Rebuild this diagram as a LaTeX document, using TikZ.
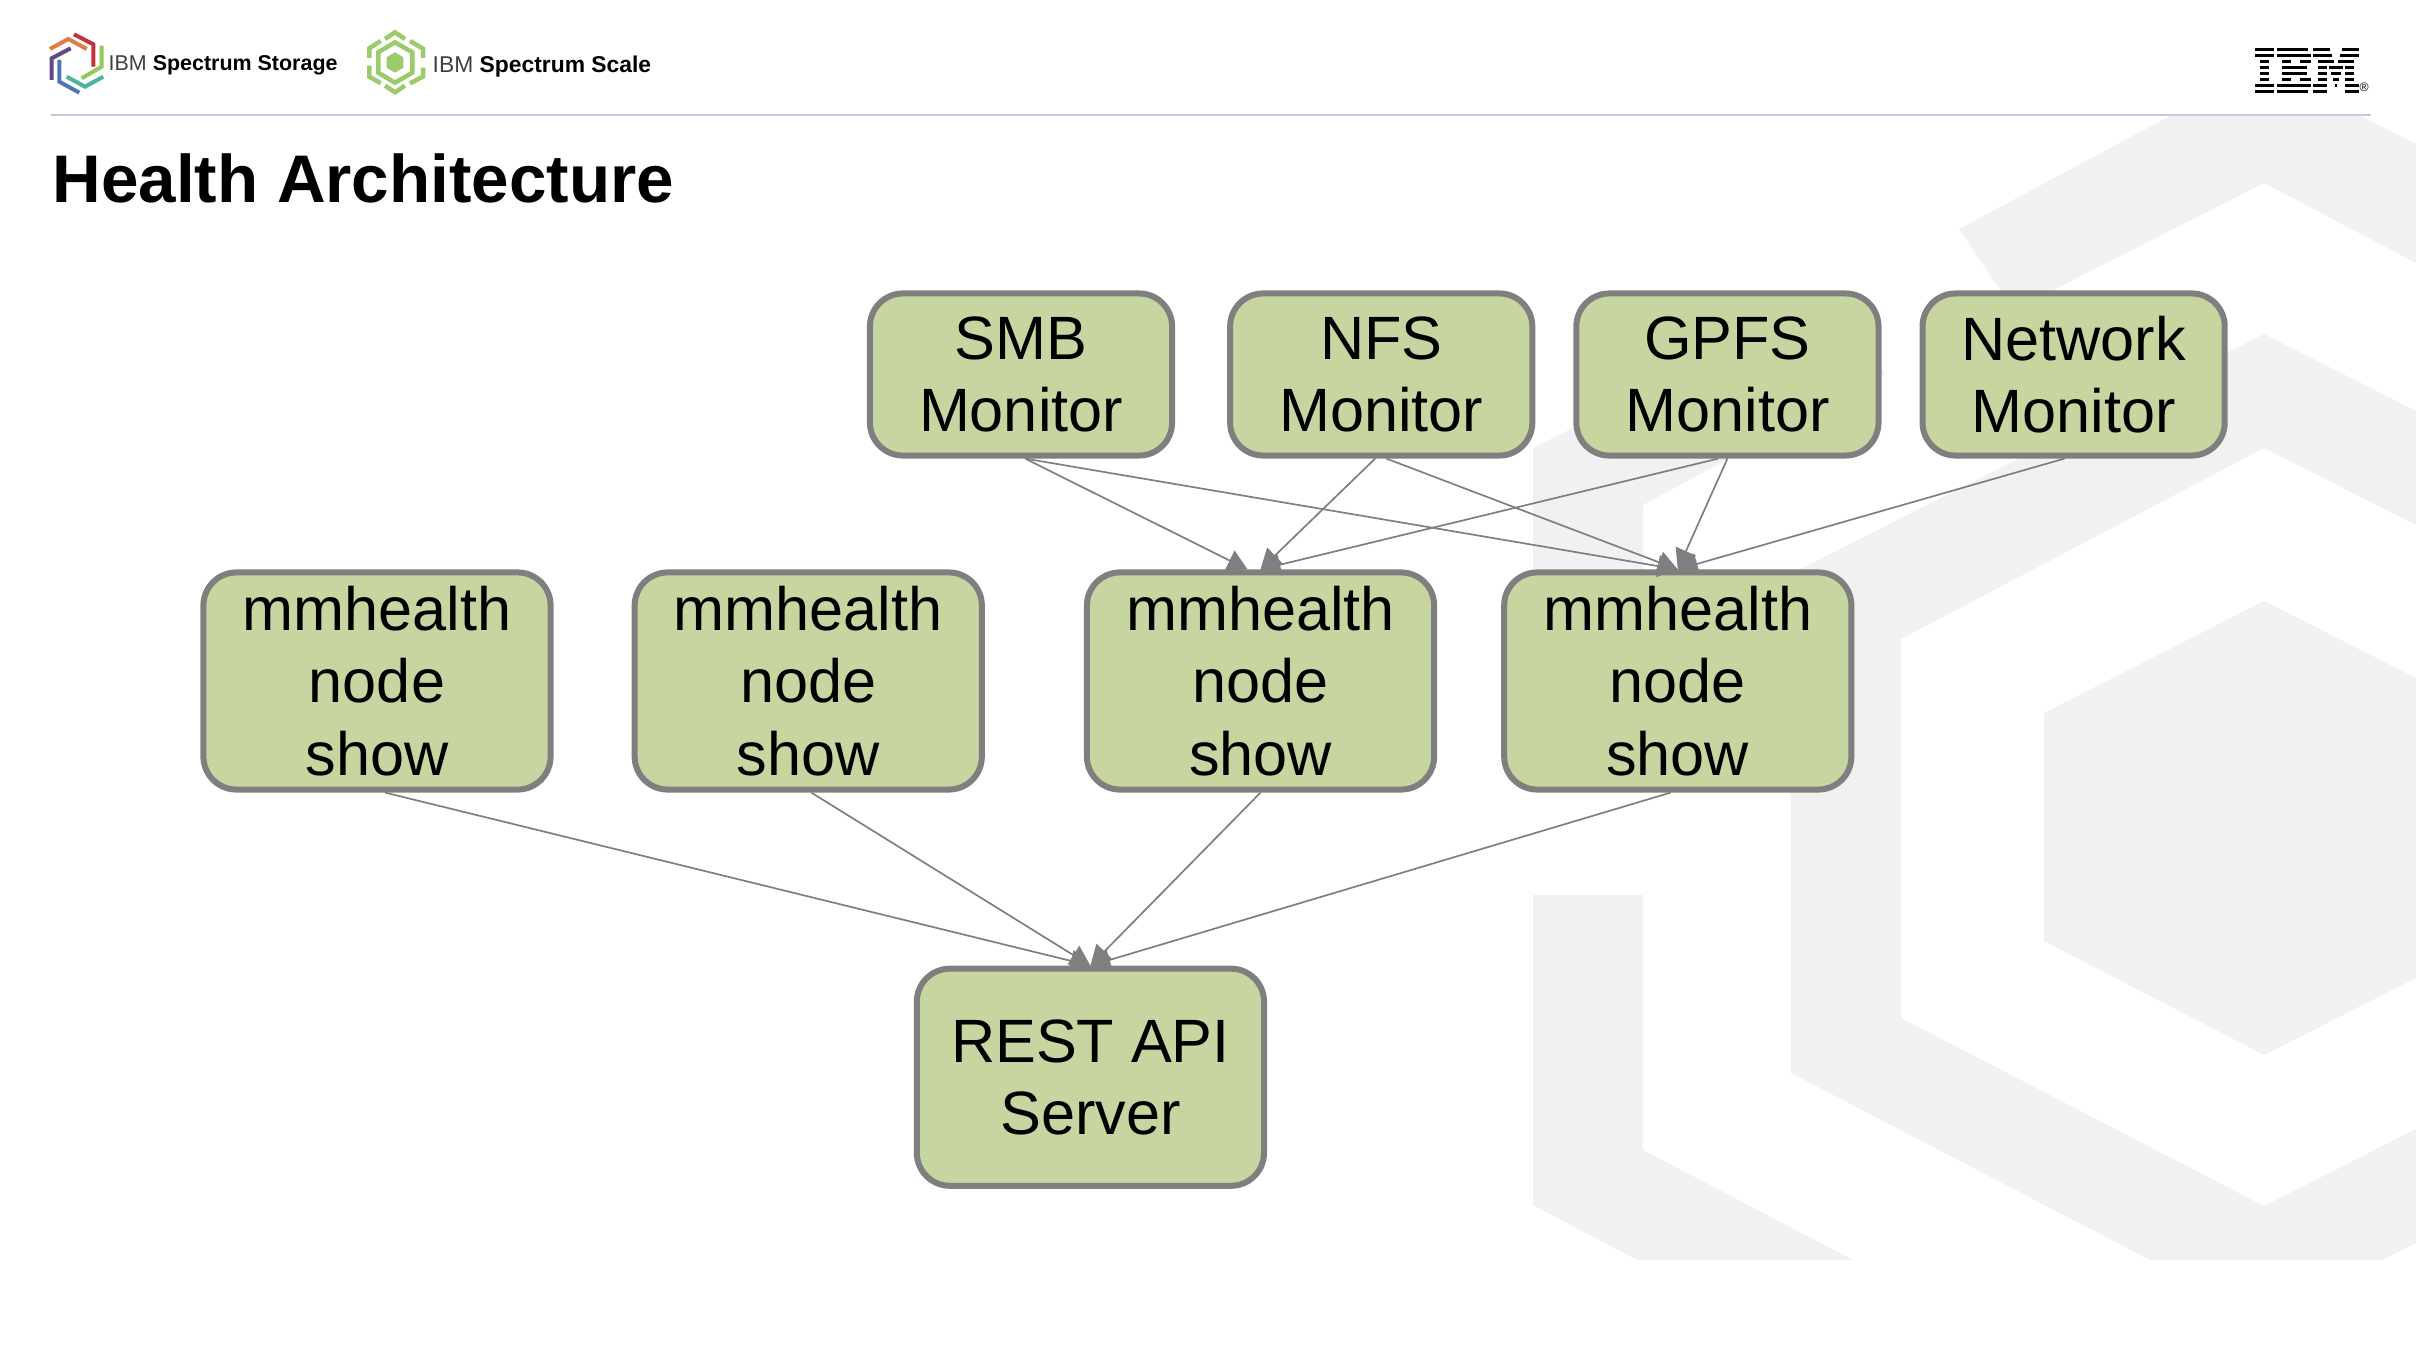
\documentclass[tikz,border=0pt]{standalone}
\usepackage{fontspec}
\setmainfont{Liberation Sans}
\usepackage{tikz}
\usetikzlibrary{shapes.geometric, arrows, arrows.meta}
\definecolor{boxgreen}{HTML}{C7D5A0}
\definecolor{boxgray}{HTML}{7F7F7F}
\definecolor{bandgray}{HTML}{F1F1F1}
\definecolor{rulegray}{HTML}{C6C9DB}
\definecolor{scalegreen}{HTML}{9CCB6B}
\definecolor{logored}{HTML}{C5323E}
\definecolor{logoorange}{HTML}{E07D46}
\definecolor{logopurple}{HTML}{64468C}
\definecolor{logoblue}{HTML}{4B78B4}
\definecolor{logoteal}{HTML}{4BB4A0}
\definecolor{logogreen}{HTML}{96C85A}
\tikzstyle{monitor} = [rectangle, rounded corners=0.33cm, minimum width=3.02cm, minimum height=1.62cm, inner sep=0pt, align=center, draw=boxgray, line width=0.06cm, fill=boxgreen, font=\fontsize{17.4}{20.6}\selectfont]
\tikzstyle{health} = [monitor, minimum width=3.47cm, minimum height=2.17cm]
\tikzstyle{arrow} = [draw=boxgray, line width=0.017cm, -{Triangle[length=0.2cm,width=0.22cm]}]
\tikzstyle{band} = [fill=bandgray]
\tikzstyle{logoline} = [line width=0.04cm]
\tikzstyle{scaleline} = [line width=0.045cm, draw=scalegreen]
\tikzstyle{ibmbar} = [fill=black]
\begin{document}
\begin{tikzpicture}[node distance=1.5cm, x=0.01cm, y=-0.01cm]
		\useasboundingbox (0,0) rectangle (2416,1346);
		
		% background hexagon
		\fill [band] (1959,229) -- (2172,115) -- (2359,115) -- (2416,144) -- (2416,263) -- (2264,183) -- (2014,310) -- cycle;
		\fill [band] (1533,448) -- (1835,297) -- (1885,374) -- (1643,505) -- (1643,700) -- (1533,700) -- cycle;
		\fill [band] (1533,895) -- (1643,895) -- (1643,1150) -- (1853,1260) -- (1637,1260) -- (1533,1205) -- cycle;
		\fill [band] (2264,334) -- (2416,411) -- (2416,525) -- (2264,448) -- (1901,639) -- (1901,1018) -- (2264,1206) -- (2416,1129) -- (2416,1243) -- (2382,1260) -- (2150,1260) -- (1791,1073) -- (1791,574) -- cycle;
		\fill [band] (2264,601) -- (2416,678) -- (2416,978) -- (2264,1055) -- (2044,941) -- (2044,713) -- cycle;
		
		% header
		\draw [logoline, draw=logored] (74,34.3) -- (93.3,44.3) -- (93.3,66.7);
		\draw [logoline, draw=logoorange] (50,49) -- (68.3,39) -- (86.7,49);
		\draw [logoline, draw=logopurple] (70.7,48.3) -- (51.7,58.3) -- (51.7,80);
		\draw [logoline, draw=logoblue] (59.3,60) -- (59.3,81.7) -- (79.3,92.7);
		\draw [logoline, draw=logoteal] (66.7,76.7) -- (85,86.7) -- (103.3,76.7);
		\draw [logoline, draw=logogreen] (81.7,78.3) -- (101.7,66.7) -- (101.7,45.7);
		\node (storage) [anchor=base west, inner sep=0pt, font=\fontsize{6.1}{7}\selectfont] at (108,71) {\textcolor{black!75}{IBM} \textbf{Spectrum Storage}};
		
		\draw [scaleline] (385,39) -- (395,32.3) -- (405,39);
		\draw [scaleline] (410,41) -- (423,48.7) -- (423,58);
		\draw [scaleline] (423,67.7) -- (423,76.7) -- (410,83.3);
		\draw [scaleline] (385,85.7) -- (395,92.3) -- (405,85.7);
		\draw [scaleline] (369.3,65.7) -- (369.3,76.7) -- (380.7,83.3);
		\draw [scaleline] (380.7,41) -- (369.3,48.3) -- (369.3,58);
		\draw [scaleline] (395,42.3) -- (412.3,52.3) -- (412.3,72.7) -- (395,82.7) -- (378.3,72.7) -- (378.3,52.3) -- cycle;
		\fill [scalegreen] (395,52.3) -- (403.3,57.3) -- (403.3,67.7) -- (395,72.7) -- (386.7,67.7) -- (386.7,57.3) -- cycle;
		\node (scale) [anchor=base west, inner sep=0pt, font=\fontsize{6.5}{7}\selectfont] at (432,73) {\textcolor{black!75}{IBM} \textbf{Spectrum Scale}};
		
		% IBM bars
		\foreach \ya/\xa/\xb in {48/2255/2274, 54/2255/2274, 60/2260/2269, 66/2260/2269, 72/2260/2269, 78/2260/2269, 84/2255/2274, 90/2255/2274,
			48/2277/2308, 54/2277/2311, 60/2282/2291, 60/2300/2311, 66/2282/2307, 72/2282/2307, 78/2282/2291, 78/2300/2311, 84/2277/2311, 90/2277/2308,
			48/2313/2330, 48/2342/2359, 54/2313/2332, 54/2340/2359, 60/2318/2334, 60/2338/2354, 66/2318/2327, 66/2329/2343, 66/2345/2354,
			72/2318/2327, 72/2331/2341, 72/2345/2354, 78/2318/2327, 78/2333/2339, 78/2345/2354, 84/2313/2327, 84/2335/2337, 84/2345/2359, 90/2313/2327, 90/2345/2359}
			\fill [ibmbar] (\xa,\ya) rectangle (\xb,{\ya+3});
		\node (reg) [inner sep=0pt, font=\fontsize{3.5}{4}\selectfont] at (2364,87) {®};
		
		\draw [rulegray, line width=0.017cm] (51,115) -- (2371,115);
		\node (title) [anchor=base west, inner sep=0pt, font=\fontsize{19.15}{24}\selectfont\bfseries] at (52,202.5) {Health Architecture};
		
		% monitors
		\node (smb) [monitor] at (1021,374.5) {SMB\\Monitor};
		\node (nfs) [monitor, right of=smb, xshift=2.10cm] {NFS\\Monitor};
		\node (gpfs) [monitor, right of=nfs, xshift=1.96cm] {GPFS\\Monitor};
		\node (net) [monitor, right of=gpfs, xshift=1.96cm] {Network\\Monitor};
		
		% mmhealth row
		\node (mm1) [health] at (377,681) {mmhealth\\node\\show};
		\node (mm2) [health, right of=mm1, xshift=2.81cm] {mmhealth\\node\\show};
		\node (mm3) [health, right of=mm2, xshift=3.02cm] {mmhealth\\node\\show};
		\node (mm4) [health, right of=mm3, xshift=2.67cm] {mmhealth\\node\\show};
		
		\node (rest) [health, below of=mm2, xshift=2.82cm, yshift=-2.46cm] {REST API\\Server};
		
		\draw [arrow] ([xshift=0.04cm]smb.south) -- ([xshift=-0.13cm]mm3.north);
		\draw [arrow] ([xshift=0.04cm]smb.south) -- (mm4.north);
		\draw [arrow] ([xshift=-0.06cm]nfs.south) -- (mm3.north);
		\draw [arrow] ([xshift=0.05cm]nfs.south) -- (mm4.north);
		\draw [arrow] ([xshift=-0.09cm]gpfs.south) -- (mm3.north);
		\draw [arrow] (gpfs.south) -- (mm4.north);
		\draw [arrow] ([xshift=-0.09cm]net.south) -- (mm4.north);
		
		\draw [arrow] ([xshift=0.08cm]mm1.south) -- (rest.north);
		\draw [arrow] ([xshift=0.03cm]mm2.south) -- (rest.north);
		\draw [arrow] (mm3.south) -- (rest.north);
		\draw [arrow] ([xshift=-0.07cm]mm4.south) -- (rest.north);
		
		\end{tikzpicture}
\end{document}
